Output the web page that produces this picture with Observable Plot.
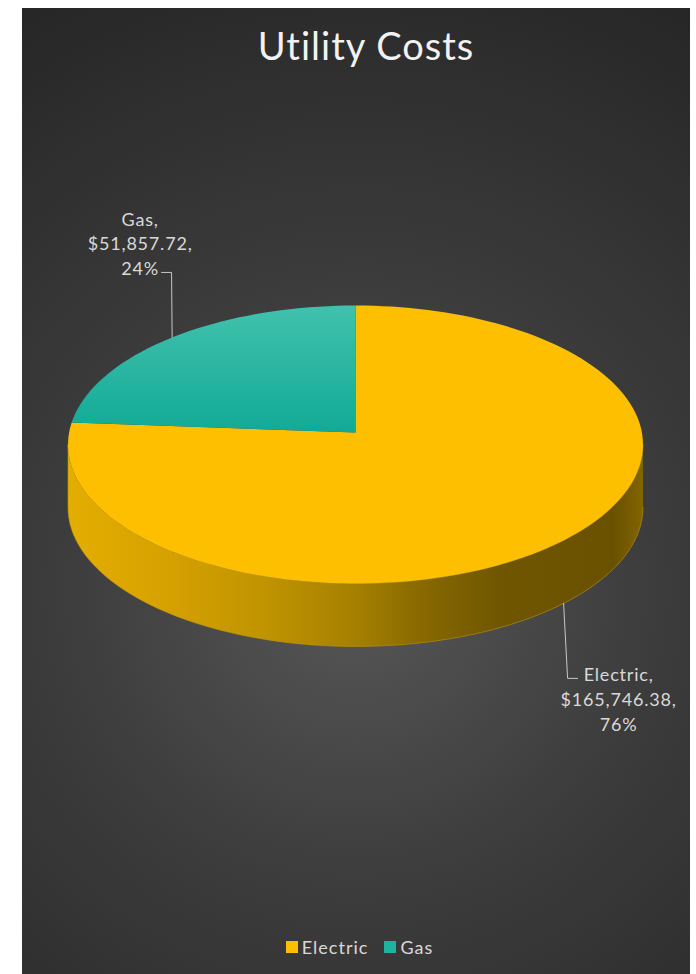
<!DOCTYPE html>
<html>
<head>
<meta charset="utf-8">
<script src="https://cdn.jsdelivr.net/npm/d3@7"></script>
<script src="https://cdn.jsdelivr.net/npm/@observablehq/plot@0.6"></script>
<style>
  html, body { margin: 0; padding: 0; background: #ffffff; width: 696px; height: 974px; overflow: hidden; }
  #panel { position: absolute; left: 22px; top: 8px; width: 668px; height: 966px;
    background: radial-gradient(circle farthest-corner at 50% 60%, #575757 0%, #3c3c3c 45%, #262626 100%); }
  #chart { position: absolute; left: 0; top: 0; }
  #chart text { letter-spacing: 0.8px; }
  #title { position: absolute; left: 0; top: 26px; width: 732px; text-align: center;
    font-family: Lato, "Open Sans", sans-serif; font-size: 38px; line-height: 38px; letter-spacing: 1px; color: #f2f2f2; }
  #legend { position: absolute; left: 0; top: 938px; width: 719px; display: flex; justify-content: center; gap: 16px;
    font-family: Lato, "Open Sans", sans-serif; font-size: 18px; line-height: 18px; letter-spacing: 1px; color: #d9d9d9; }
  #legend .item { display: flex; align-items: center; }
  #legend .sw { width: 12px; height: 12px; margin-right: 4px; display: inline-block; }
</style>
</head>
<body>
<div id="panel"></div>
<div id="title">Utility Costs</div>
<div id="chart"></div>
<div id="legend"></div>
<script>
// ---- data ----
const categories = ["Electric", "Gas"];
const costs = [165746.38, 51857.72];
const colors = ["#fdbf00", "#1db39e"];

// ---- derived ----
const total = d3.sum(costs);
const fmt = d3.format("$,.2f");
let acc = 0;
const slices = categories.map((c, i) => {
  const f = costs[i] / total;
  const s = { name: c, value: costs[i], frac: f, a0: acc * 2 * Math.PI, a1: (acc + f) * 2 * Math.PI };
  acc += f;
  s.mid = (s.a0 + s.a1) / 2;
  s.label = `${c},\n${fmt(s.value)},\n${Math.round(f * 100)}%`;
  return s;
});

// ---- layout of the tilted disk (perspective) ----
const P = { cx: 355, cy: 432, A: 286.4, B: 137.96, g: -0.0863, depth: 63 };
function proj(theta, drop = 0) {
  const u = Math.sin(theta), v = -Math.cos(theta);
  const w = 1 + P.g * v;
  return { x: P.cx + P.A * u / w, y: P.cy + P.B * v / w + drop };
}
const N = 180;
function arcPts(a0, a1, drop = 0) {
  const n = Math.max(2, Math.ceil(N * (a1 - a0) / (2 * Math.PI)));
  return d3.range(n + 1).map(k => proj(a0 + (a1 - a0) * k / n, drop));
}
const thL = Math.acos(P.g), thR = 2 * Math.PI - Math.acos(P.g);

const tops = slices.map(s => [{ x: P.cx, y: P.cy }, ...arcPts(s.a0, s.a1), { x: P.cx, y: P.cy }]);
const sides = slices.map(s => {
  const b0 = Math.max(s.a0, thL), b1 = Math.min(s.a1, thR);
  if (b1 <= b0) return null;
  return [...arcPts(b0, b1), ...arcPts(b0, b1, P.depth).reverse()];
}).filter(Boolean);
const shadow = [...arcPts(thL, thR), ...arcPts(thL, thR, P.depth + 3).reverse()].map(p => ({ x: p.x - 2, y: p.y + 2 }));

// label geometry (offsets from the slice's mid-angle edge point)
const gas = slices[1], ele = slices[0];
const gasA = proj(gas.mid);
const eleA = proj(ele.mid, P.depth);
const leaders = [
  [gasA, { x: gasA.x - 0.6, y: gasA.y - 65 }, { x: gasA.x - 10.6, y: gasA.y - 65 }],
  [eleA, { x: eleA.x + 4, y: eleA.y + 75 }, { x: eleA.x + 14, y: eleA.y + 75 }]
];
const labels = [
  { x: gasA.x - 32, y: gasA.y - 95, text: gas.label },
  { x: eleA.x + 55, y: eleA.y + 95, text: ele.label }
];

function defs() {
  const d = d3.create("svg:defs");
  const side = d.append("linearGradient").attr("id", "sideGrad").attr("gradientUnits", "userSpaceOnUse")
    .attr("x1", P.cx - P.A).attr("x2", P.cx + P.A).attr("y1", 0).attr("y2", 0);
  [[0, "#e4ad00"], [0.15, "#d8a300"], [0.35, "#bf9300"], [0.5, "#a58000"], [0.62, "#876800"], [0.75, "#705600"], [0.95, "#6a5100"], [1, "#826400"]]
    .forEach(([o, c]) => side.append("stop").attr("offset", o).attr("stop-color", c));
  const teal = d.append("linearGradient").attr("id", "tealGrad").attr("x1", 0).attr("x2", 0).attr("y1", 0).attr("y2", 1);
  [[0, "#42c1ad"], [1, "#11aa96"]].forEach(([o, c]) => teal.append("stop").attr("offset", o).attr("stop-color", c));
  const f = d.append("filter").attr("id", "blur").attr("x", "-10%").attr("y", "-10%").attr("width", "120%").attr("height", "130%");
  f.append("feGaussianBlur").attr("stdDeviation", 3);
  return d.node();
}

const topFills = ["#fdbf00", "url(#tealGrad)"];

const chart = Plot.plot({
  width: 696, height: 974, margin: 0,
  x: { domain: [0, 696], range: [0, 696], axis: null },
  y: { domain: [0, 974], range: [0, 974], axis: null },
  style: { background: "transparent", overflow: "visible" },
  marks: [
    defs,
    Plot.line(shadow, { x: "x", y: "y", fill: "#000", fillOpacity: 0.55, stroke: "none", ariaLabel: "shadow" }),
    ...sides.map(pts => Plot.line(pts, { x: "x", y: "y", fill: "url(#sideGrad)", stroke: "#c89a00", strokeWidth: 0.8, strokeOpacity: 0.7 })),
    ...tops.map((pts, i) => Plot.line(pts, { x: "x", y: "y", fill: topFills[i], stroke: "none" })),
    ...leaders.map(pts => Plot.line(pts, { x: "x", y: "y", stroke: "#c8c8c8", strokeWidth: 1 })),
    Plot.text(labels, { x: "x", y: "y", text: "text", fill: "#d9d9d9", fontSize: 18, fontFamily: "Lato, 'Open Sans', sans-serif", lineHeight: 1.38, textAnchor: "middle" })
  ]
});
document.getElementById("chart").appendChild(chart);
const sh = chart.querySelector('[aria-label="shadow"]');
if (sh) sh.setAttribute("filter", "url(#blur)");

// legend
const lg = d3.select("#legend");
categories.forEach((c, i) => {
  const it = lg.append("div").attr("class", "item");
  it.append("span").attr("class", "sw").style("background", colors[i]);
  it.append("span").text(c);
});
</script>
</body>
</html>
